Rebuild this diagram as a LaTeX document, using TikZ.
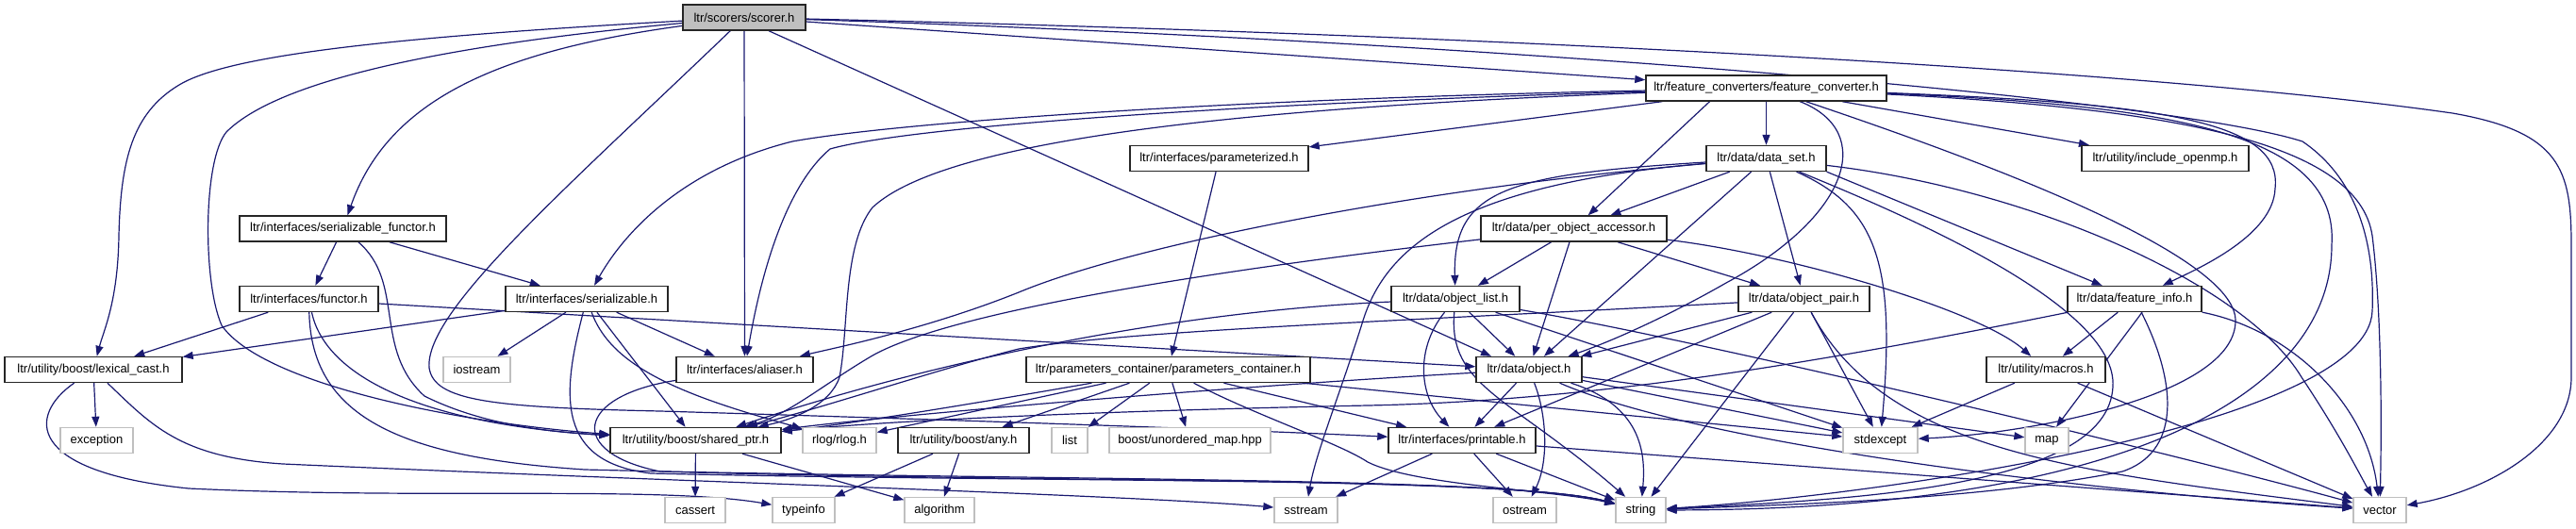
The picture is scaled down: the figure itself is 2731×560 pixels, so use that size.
\documentclass[tikz,border=0pt]{standalone}
\usepackage{fontspec}
\setmainfont{Liberation Sans}
\usetikzlibrary{arrows.meta}
\definecolor{edgeblue}{HTML}{191970}
\definecolor{sysgray}{HTML}{BFBFBF}
\pgfdeclarelayer{bg}
\pgfsetlayers{bg,main}
\begin{document}
\begin{tikzpicture}[x=1pt,y=-1pt,
  box/.style={rectangle, inner sep=0pt, minimum height=27pt, font=\fontsize{13}{15}\selectfont, text=black},
  hdr/.style={box, draw=black!85, line width=1.4pt, fill=white},
  sys/.style={box, draw=sysgray, line width=1.4pt, fill=white},
  root/.style={box, draw=black!85, line width=1.4pt, fill=sysgray},
  dep/.style={draw=edgeblue, line width=1.2pt, -{Triangle[length=11pt,width=8pt]}},
]
\useasboundingbox (0,0) rectangle (2731,560);
% row 0
\node[root, minimum width=130pt] (scorer) at (789,18.5) {ltr/scorers/scorer.h};
% row 1
\node[hdr, minimum width=255pt] (fc) at (1872.5,93.5) {ltr/feature\_converters/feature\_converter.h};
% row 2
\node[hdr, minimum width=189pt] (parameterized) at (1292.5,168) {ltr/interfaces/parameterized.h};
\node[hdr, minimum width=127pt] (data_set) at (1872.5,168) {ltr/data/data\_set.h};
\node[hdr, minimum width=177pt] (include_openmp) at (2295.5,168) {ltr/utility/include\_openmp.h};
% row 3
\node[hdr, minimum width=219pt] (sfunctor) at (363.5,242.5) {ltr/interfaces/serializable\_functor.h};
\node[hdr, minimum width=197pt] (poa) at (1668.5,242.5) {ltr/data/per\_object\_accessor.h};
% row 4
\node[hdr, minimum width=147pt] (functor) at (327.5,317) {ltr/interfaces/functor.h};
\node[hdr, minimum width=172pt] (serializable) at (622,317) {ltr/interfaces/serializable.h};
\node[hdr, minimum width=136pt] (object_list) at (1543,317) {ltr/data/object\_list.h};
\node[hdr, minimum width=139pt] (object_pair) at (1912.5,317) {ltr/data/object\_pair.h};
\node[hdr, minimum width=142pt] (feature_info) at (2263,317) {ltr/data/feature\_info.h};
% row 5
\node[hdr, minimum width=188pt] (lexical_cast) at (99,392) {ltr/utility/boost/lexical\_cast.h};
\node[sys, minimum width=71pt] (iostream) at (505.5,392) {iostream};
\node[hdr, minimum width=145pt] (aliaser) at (789.5,392) {ltr/interfaces/aliaser.h};
\node[hdr, minimum width=301pt] (pc) at (1238.5,392) {ltr/parameters\_container/parameters\_container.h};
\node[hdr, minimum width=112pt] (object) at (1621,392) {ltr/data/object.h};
\node[hdr, minimum width=126pt] (macros) at (2169,392) {ltr/utility/macros.h};
% row 6
\node[sys, minimum width=77pt] (exception) at (102.5,467) {exception};
\node[hdr, minimum width=181pt] (shared_ptr) at (737.5,467) {ltr/utility/boost/shared\_ptr.h};
\node[sys, minimum width=78pt] (rlog) at (890,467) {rlog/rlog.h};
\node[hdr, minimum width=139pt] (any) at (1021.5,467) {ltr/utility/boost/any.h};
\node[sys, minimum width=38pt] (list) at (1134,467) {list};
\node[sys, minimum width=171pt] (unordered_map) at (1261.5,467) {boost/unordered\_map.hpp};
\node[hdr, minimum width=156pt] (printable) at (1550,467) {ltr/interfaces/printable.h};
\node[sys, minimum width=79pt] (stdexcept) at (1993.5,467) {stdexcept};
\node[sys, minimum width=46pt] (map) at (2170,467) {map};
% row 7
\node[sys, minimum width=64pt] (cassert) at (737,541) {cassert};
\node[sys, minimum width=66pt] (typeinfo) at (852,541) {typeinfo};
\node[sys, minimum width=74pt] (algorithm) at (996,541) {algorithm};
\node[sys, minimum width=67pt] (sstream) at (1384.5,541) {sstream};
\node[sys, minimum width=67pt] (ostream) at (1616.5,541) {ostream};
\node[sys, minimum width=53pt] (string) at (1739.5,541) {string};
\node[sys, minimum width=56pt] (vector) at (2523,541) {vector};

\begin{pgfonlayer}{bg}
% scorer
\draw[dep] (scorer) -- (fc);
\draw[dep] (scorer) .. controls (1500,35) and (2250,70) .. (2600,120) .. controls (2715,140) and (2726,180) .. (2726,260) -- (2726,400) .. controls (2726,470) and (2640,520) .. (vector);
\draw[dep] (scorer) .. controls (1600,45) and (2300,105) .. (2441,150) .. controls (2500,190) and (2518,260) .. (2515,330) .. controls (2510,450) and (2000,525) .. (string);
\draw[dep] (scorer) .. controls (520,55) and (410,110) .. (sfunctor);
\draw[dep] (scorer) .. controls (400,40) and (240,60) .. (190,90) .. controls (140,120) and (128,170) .. (126,250) .. controls (125,320) and (110,350) .. (lexical_cast);
\draw[dep] (scorer) .. controls (500,45) and (300,80) .. (240,140) .. controls (215,170) and (215,300) .. (235,345) .. controls (280,410) and (500,450) .. (shared_ptr);
\draw[dep] (scorer) .. controls (600,200) and (450,330) .. (455,390) .. controls (460,425) and (520,432) .. (700,436) .. controls (1000,445) and (1300,455) .. (printable);
\draw[dep] (scorer) -- (aliaser);
\draw[dep] ([xshift=26]scorer.south) -- ([xshift=-40]object.north);
% feature_converter
\draw[dep] (fc) .. controls (1300,105) and (950,130) .. (840,150) .. controls (720,180) and (660,250) .. (serializable);
\draw[dep] (fc) .. controls (1300,110) and (960,135) .. (880,158) .. controls (830,200) and (805,300) .. (aliaser);
\draw[dep] (fc) .. controls (1300,115) and (1000,150) .. (925,220) .. controls (893,260) and (900,350) .. (890,400) .. controls (880,430) and (840,445) .. (shared_ptr);
\draw[dep] (fc) -- (parameterized);
\draw[dep] ([xshift=-60]fc.south) -- (poa);
\draw[dep] (fc) -- (data_set);
\draw[dep] (fc) .. controls (1990,140) and (1960,230) .. (1830,300) .. controls (1760,340) and (1700,365) .. (object);
\draw[dep] (fc) .. controls (2100,170) and (2370,270) .. (2370,340) .. controls (2370,420) and (2150,460) .. (stdexcept);
\draw[dep] (fc) -- (include_openmp);
\draw[dep] (fc) .. controls (2300,110) and (2420,130) .. (2412,200) .. controls (2410,250) and (2330,285) .. (feature_info);
\draw[dep] (fc) .. controls (2300,112) and (2480,140) .. (2472,260) .. controls (2472,420) and (2250,540) .. (string);
\draw[dep] (fc) .. controls (2300,115) and (2500,150) .. (2515,250) .. controls (2525,330) and (2525,450) .. (vector);
% parameterized
\draw[dep] (parameterized) -- (pc);
% data_set
\draw[dep] (data_set) -- (poa);
\draw[dep] (data_set) .. controls (1600,185) and (1540,200) .. (object_list);
\draw[dep] (data_set) .. controls (1550,195) and (1470,260) .. (1445,340) .. controls (1420,420) and (1395,480) .. (sstream);
\draw[dep] (data_set) .. controls (1500,200) and (1200,260) .. (1080,310) .. controls (980,350) and (880,370) .. (aliaser);
\draw[dep] (data_set) -- (object);
\draw[dep] (data_set) -- (object_pair);
\draw[dep] (data_set) .. controls (1990,220) and (2010,280) .. (stdexcept);
\draw[dep] (data_set.south east) -- (feature_info);
\draw[dep] (data_set) .. controls (2050,240) and (2245,330) .. (2240,410) .. controls (2235,520) and (1950,530) .. (string);
\draw[dep] (data_set) .. controls (2150,200) and (2380,300) .. (2440,400) .. controls (2480,460) and (2500,500) .. (vector);
% per_object_accessor
\draw[dep] (poa) -- (object_list);
\draw[dep] (poa) -- (object);
\draw[dep] (poa) -- (object_pair);
\draw[dep] (poa) .. controls (1900,270) and (2100,330) .. (macros);
\draw[dep] (poa) .. controls (1300,285) and (1000,330) .. (920,380) .. controls (870,410) and (835,440) .. (shared_ptr);
% object_list
\draw[dep] (object_list) -- (object);
\draw[dep] (object_list) .. controls (1500,370) and (1505,420) .. (printable);
\draw[dep] (object_list) .. controls (1535,410) and (1600,420) .. (string);
\draw[dep] (object_list) -- (stdexcept);
\draw[dep] (object_list) .. controls (1800,360) and (2300,480) .. (vector);
\draw[dep] (object_list) .. controls (1250,330) and (1000,380) .. (shared_ptr);
% object_pair
\draw[dep] (object_pair) -- (object);
\draw[dep] (object_pair) -- (printable);
\draw[dep] (object_pair) -- (string);
\draw[dep] (object_pair) -- (stdexcept);
\draw[dep] (object_pair) .. controls (2000,480) and (2200,500) .. (vector);
\draw[dep] (object_pair) .. controls (1500,340) and (1200,350) .. (1080,370) .. controls (1000,390) and (880,430) .. (shared_ptr);
% feature_info
\draw[dep] (feature_info) -- (macros);
\draw[dep] ([xshift=8]feature_info.south) -- ([xshift=10]map.north);
\draw[dep] (feature_info) .. controls (2310,410) and (2310,480) .. (2250,500) .. controls (2100,530) and (1900,535) .. (string);
\draw[dep] (feature_info) .. controls (2430,350) and (2510,430) .. (vector);
\draw[dep] (feature_info) .. controls (1950,380) and (1700,425) .. (1450,430) .. controls (1200,435) and (950,445) .. (shared_ptr);
% object
\draw[dep] (object) -- (printable);
\draw[dep] (object) .. controls (1640,440) and (1642,490) .. (ostream);
\draw[dep] (object) .. controls (1740,430) and (1745,480) .. (string);
\draw[dep] (object) -- (stdexcept);
\draw[dep] (object) -- (map);
\draw[dep] (object) .. controls (1800,470) and (2200,520) .. (vector);
\draw[dep] (object) .. controls (1300,410) and (950,440) .. (shared_ptr);
% printable
\draw[dep] (printable) -- (sstream);
\draw[dep] (printable) -- (ostream);
\draw[dep] (printable) -- (string);
\draw[dep] (printable) -- (vector);
% parameters_container
\draw[dep] (pc) .. controls (1050,425) and (900,450) .. (shared_ptr);
\draw[dep] (pc) -- (rlog);
\draw[dep] (pc) -- (any);
\draw[dep] (pc) -- (list);
\draw[dep] (pc) -- (unordered_map);
\draw[dep] (pc) .. controls (1330,440) and (1420,470) .. (1450,490) .. controls (1500,515) and (1650,520) .. (string);
\draw[dep] (pc) -- (printable);
\draw[dep] (pc) -- (stdexcept);
% serializable
\draw[dep] (serializable) -- (lexical_cast);
\draw[dep] (serializable) -- (iostream);
\draw[dep] (serializable) -- (aliaser);
\draw[dep] (serializable) -- (shared_ptr);
\draw[dep] (serializable) .. controls (645,380) and (700,410) .. (800,440) .. controls (820,446) and (835,450) .. (rlog);
\draw[dep] (serializable) .. controls (595,420) and (590,490) .. (690,502) .. controls (1100,512) and (1600,505) .. (string);
% serializable_functor
\draw[dep] (sfunctor) -- (functor);
\draw[dep] (sfunctor) -- (serializable);
\draw[dep] (sfunctor) .. controls (430,300) and (395,370) .. (450,420) .. controls (510,450) and (580,458) .. (shared_ptr);
% functor
\draw[dep] (functor) -- (lexical_cast);
\draw[dep] (functor) .. controls (345,400) and (450,450) .. (shared_ptr);
\draw[dep] ([yshift=-5]functor.east) -- (object);
\draw[dep] (functor) .. controls (330,440) and (420,485) .. (620,498) .. controls (1100,510) and (1600,505) .. (string);
% lexical_cast
\draw[dep] (lexical_cast) -- (exception);
\draw[dep] (lexical_cast) .. controls (30,440) and (25,500) .. (200,518) .. controls (450,530) and (700,515) .. (typeinfo);
\draw[dep] (lexical_cast) .. controls (160,450) and (190,485) .. (300,492) .. controls (700,510) and (1200,525) .. (sstream);
% aliaser
\draw[dep] (aliaser) .. controls (610,420) and (600,480) .. (700,500) .. controls (1100,512) and (1600,505) .. (string);
% shared_ptr, any, macros
\draw[dep] (shared_ptr) -- (cassert);
\draw[dep] (shared_ptr) -- (algorithm);
\draw[dep] (any) -- (typeinfo);
\draw[dep] (any) -- (algorithm);
\draw[dep] (macros) -- (stdexcept);
\draw[dep] (macros) -- (vector);
\end{pgfonlayer}
\end{tikzpicture}
\end{document}
